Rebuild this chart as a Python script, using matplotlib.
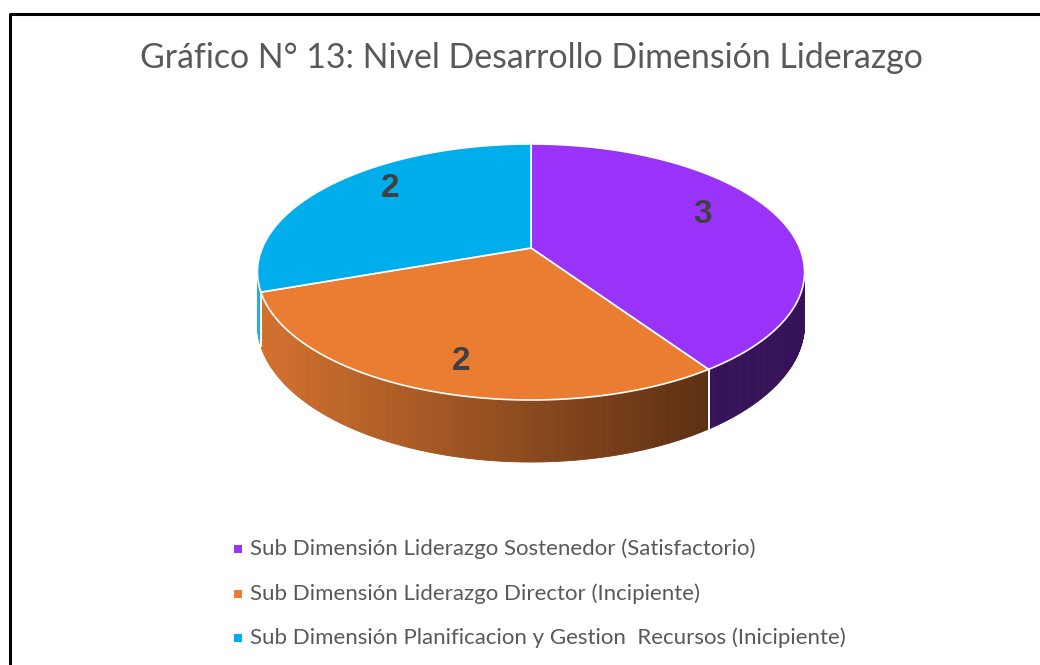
import numpy as np
import matplotlib
matplotlib.use("Agg")
import matplotlib.pyplot as plt
from matplotlib.patches import Polygon
from matplotlib.colors import to_rgb

# data
labels = [
    "Sub Dimensión Liderazgo Sostenedor (Satisfactorio)",
    "Sub Dimensión Liderazgo Director (Incipiente)",
    "Sub Dimensión Planificacion y Gestion  Recursos (Inicipiente)",
]
values = [2.8, 2.0, 2.1]
top_colors = ["#9933FA", "#EA7D32", "#00AEEC"]
side_light = ["#40186C", "#D2712E", "#2AAAE2"]
side_dark = ["#361258", "#5A2E12", "#1C90C8"]
title = "Gráfico N° 13: Nivel Desarrollo Dimensión Liderazgo"

# projection of the tilted disc (pixel coords)
cx, cy = 531, 248
a, b, k = 268.7, 123.5, 0.1875
depth = 50.4


def proj(phi, r=1.0, down=0.0, rv=None):
    # phi clockwise from the far side (top), in degrees
    p = np.radians(phi)
    u = r * np.sin(p)
    v = -(r if rv is None else rv) * np.cos(p)
    s = 1 - k * v
    return cx + a * u / s, cy + (b * v + down) / s


fig = plt.figure(figsize=(10.4, 6.65), dpi=100)
ax = fig.add_axes([0, 0, 1, 1])
ax.set_xlim(0, 1040)
ax.set_ylim(665, 0)
ax.axis("off")

# frame
ax.plot([10, 10, 1040], [665, 14, 14], color="black", lw=2.2, solid_capstyle="butt")

total = sum(values)
bounds = np.concatenate([[0], np.cumsum(values) / total * 360])
vis_lo = np.degrees(np.arccos(-k))
vis_hi = 360 - vis_lo

# side walls
for i in range(len(values)):
    lo = max(bounds[i], vis_lo)
    hi = min(bounds[i + 1], vis_hi)
    if hi <= lo:
        continue
    steps = np.linspace(lo, hi, max(int((hi - lo) * 2), 2))
    c1, c2 = np.array(to_rgb(side_light[i])), np.array(to_rgb(side_dark[i]))
    for p0, p1 in zip(steps[:-1], steps[1:]):
        x0, y0 = proj(p0)
        x1, y1 = proj(p1)
        x0b, y0b = proj(p0, down=depth)
        x1b, y1b = proj(p1, down=depth)
        t = np.clip((x0 - 262) / (716 - 262), 0, 1)
        col = c1 + (c2 - c1) * t
        ax.add_patch(Polygon([(x0, y0), (x1, y1), (x1b, y1b), (x0b, y0b)],
                             closed=True, facecolor=col, edgecolor=col, lw=0.6))
    # white seam at slice boundary
    for p in (bounds[i], bounds[i + 1]):
        if vis_lo < p < vis_hi:
            xt, yt = proj(p)
            xb, yb = proj(p, down=depth)
            ax.plot([xt, xb], [yt, yb], color="white", lw=1.2)

# top faces
for i in range(len(values)):
    ph = np.linspace(bounds[i], bounds[i + 1], 200)
    xs, ys = proj(ph)
    pts = [(cx, cy)] + list(zip(xs, ys))
    ax.add_patch(Polygon(pts, closed=True, facecolor=top_colors[i],
                         edgecolor="white", lw=1.2, joinstyle="round"))

# data labels
for i, val in enumerate(values):
    mid = (bounds[i] + bounds[i + 1]) / 2
    lx, ly = proj(mid, r=0.7, rv=0.85)
    ax.text(lx, ly - 4, f"{val:.0f}", ha="center", va="center", fontsize=24,
            fontweight="bold", color="#404040", family="Liberation Sans")

# title
ax.text(531, 58, title, ha="center", va="center", fontsize=24.4,
        color="#595959", family="Lato")

# legend
for i, lab in enumerate(labels):
    y = 549 + i * 44.5
    ax.scatter([238], [y], marker="s", s=40, color=top_colors[i], linewidths=0)
    ax.text(250, y, lab, ha="left", va="center", fontsize=16.0,
            color="#595959", family="Lato")

fig.savefig("out.png", dpi=100)
